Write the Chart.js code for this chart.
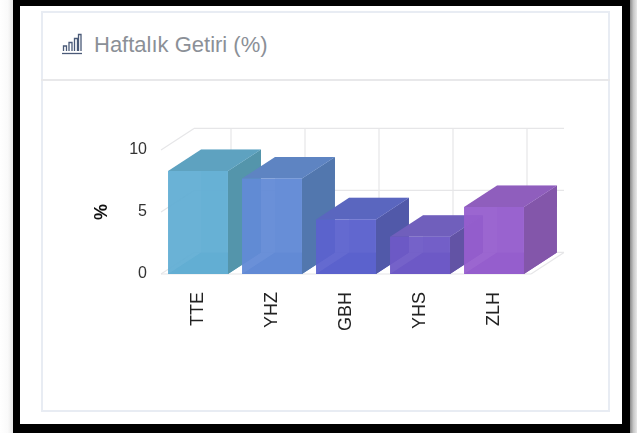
<!DOCTYPE html>
<html><head><meta charset="utf-8">
<script src="https://cdn.jsdelivr.net/npm/chart.js@4"></script>
<style>
html,body{margin:0;padding:0;width:637px;height:433px;overflow:hidden;background:#fff;font-family:"Liberation Sans",Arial,sans-serif}
#shadeL{position:absolute;left:0;top:0;width:13px;height:433px;background:linear-gradient(to right,#fff 0,#fafafa 60%,#e8e8e8 100%)}
#shadeR{position:absolute;left:630px;top:0;width:7px;height:433px;background:linear-gradient(to right,#8a8a8a 0,#c8c8c8 50%,#e8e8e8 100%)}
#frame{position:absolute;left:13px;top:0;width:602px;height:418px;border:solid #000;border-width:6px 8px 9px 7px;background:#fff}
#card{position:absolute;left:41px;top:11px;width:565px;height:397px;border:2px solid #e8ecf3;background:#fff}
#sep{position:absolute;left:41px;top:79px;width:569px;height:2px;background:#e8e8ea}
#title{position:absolute;left:94px;top:32px;font-size:22px;line-height:26px;color:#8b9097;white-space:nowrap}
#icon{position:absolute;left:61px;top:33px}
#wrap{position:absolute;left:43px;top:82px;width:566px;height:328px}
</style></head><body>
<div id="shadeL"></div><div id="shadeR"></div><div id="frame"></div><div id="card"></div><div id="sep"></div>
<svg id="icon" width="22" height="22" viewBox="0 0 22 22" fill="none" stroke="#4a5a78" stroke-width="1.3">
<path d="M1 20.5H21"/><path d="M2.5 18V13H5.5V18"/><path d="M8 18V9.5H11V18"/><path d="M13.5 18V5.5H16.5V18" /><path d="M17.5 18V1.5H20V18"/></svg>
<div id="title">Haftalık Getiri (%)</div>
<div id="wrap"><canvas id="c" width="566" height="328"></canvas></div>
<script>
const categories = ["TTE","YHZ","GBH","YHS","ZLH"];
const weeklyReturn = [8.3,7.7,4.4,3.0,5.4];
const frontColors = ["rgba(98,174,212,0.95)","rgba(98,138,214,0.95)","rgba(92,98,206,0.95)","rgba(110,90,198,0.95)","rgba(150,94,206,0.95)"];
const sideColors = ["#5495ab","#5277ae","#5159a9","#6253a5","#8356aa"];
const topColors = ["#5ea2c0","#5e84c2","#5a66bf","#705fbc","#8f5ebd"];
const backColors = ["rgba(110,190,225,0.3)","rgba(110,155,230,0.3)","rgba(105,110,225,0.3)","rgba(125,105,215,0.3)","rgba(165,110,225,0.3)"];
const floorColors = ["#5fa7c6","#5c84c6","#5a60c2","#6a58ba","#8e5cc0"];
const yTicks = [0,5,10];
const DX = 33, DY = 21.6;

function poly(ctx, pts, fill){
  ctx.beginPath();
  pts.forEach((p,i)=> i ? ctx.lineTo(p[0],p[1]) : ctx.moveTo(p[0],p[1]));
  ctx.closePath();
  ctx.fillStyle = fill; ctx.fill();
}
const scene = {
  id:'scene',
  beforeDatasetsDraw(chart){
    const ctx = chart.ctx, {x, y} = chart.scales, a = chart.chartArea;
    ctx.save();
    ctx.strokeStyle = '#e6e6e8'; ctx.lineWidth = 1.2;
    const seg = (x1,y1,x2,y2)=>{ctx.beginPath();ctx.moveTo(x1,y1);ctx.lineTo(x2,y2);ctx.stroke();};
    yTicks.forEach(v=>{
      const py = y.getPixelForValue(v);
      seg(a.left,py,a.left+DX,py-DY);
      seg(a.left+DX,py-DY,a.right+DX,py-DY);
    });
    categories.forEach((c,i)=>{
      const px = x.getPixelForValue(i)+DX;
      seg(px,a.top-DY,px,a.bottom-DY);
    });
    seg(a.left,a.bottom,a.right,a.bottom);
    seg(a.right,a.bottom,a.right+DX,a.bottom-DY);
    const meta = chart.getDatasetMeta(0);
    meta.data.forEach((b,i)=>{
      const half = b.width/2, l = b.x-half, r = b.x+half, t = b.y, bt = b.base;
      poly(ctx,[[l+DX,t-DY],[r+DX,t-DY],[r+DX,bt-DY],[l+DX,bt-DY]],backColors[i]);
      poly(ctx,[[l,bt],[r,bt],[r+DX,bt-DY],[l+DX,bt-DY]],floorColors[i]);
      poly(ctx,[[r,t],[r+DX,t-DY],[r+DX,bt-DY],[r,bt]],sideColors[i]);
      poly(ctx,[[l,t],[r,t],[r+DX,t-DY],[l+DX,t-DY]],topColors[i]);
    });
    ctx.restore();
  }
};
new Chart(document.getElementById('c'),{
  type:'bar',
  data:{labels:categories,datasets:[{data:weeklyReturn,backgroundColor:frontColors,borderWidth:0,barPercentage:0.81,categoryPercentage:1}]},
  plugins:[scene],
  options:{
    responsive:false,animation:false,
    layout:{padding:{top:68,left:0,right:78,bottom:0}},
    plugins:{legend:{display:false},tooltip:{enabled:false}},
    scales:{
      x:{
        grid:{display:false},border:{display:false},
        afterFit(s){s.height=136;},
        ticks:{minRotation:90,maxRotation:90,padding:10,color:'#222',font:{family:'"Liberation Sans"',size:18}}
      },
      y:{
        min:0,max:10,
        grid:{display:false},border:{display:false},
        afterFit(s){s.width=118;},
        afterBuildTicks(s){s.ticks=yTicks.map(v=>({value:v}));},
        ticks:{padding:6,color:'#333',font:{family:'"Liberation Sans"',size:16}},
        title:{display:true,text:'%',color:'#111',padding:{top:48,bottom:0},font:{family:'"Liberation Sans"',size:18,weight:'bold'}}
      }
    }
  }
});
</script>
</body></html>
